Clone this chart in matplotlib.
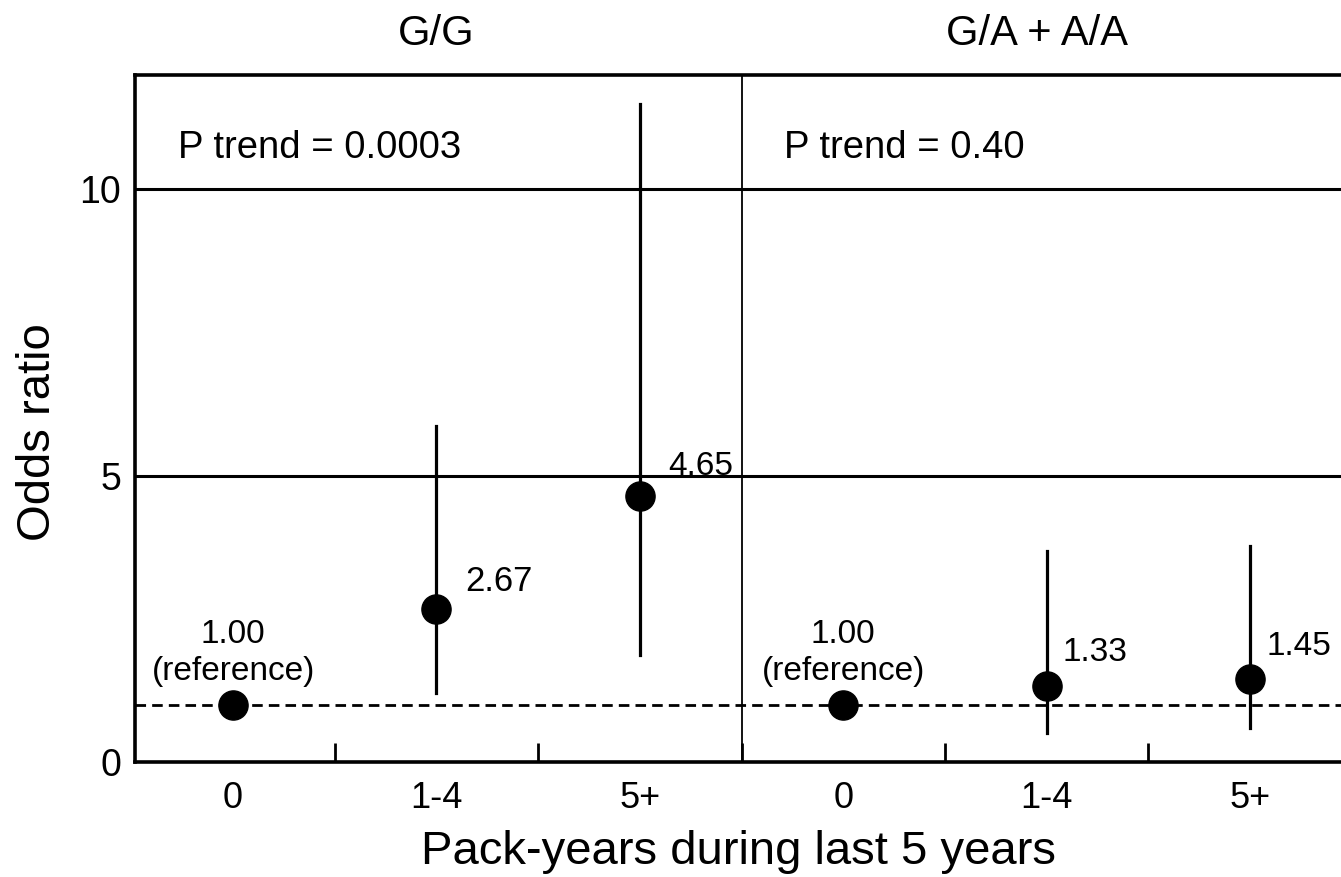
import matplotlib.pyplot as plt
import numpy as np

plt.rcParams['font.family'] = ['Liberation Sans', 'DejaVu Sans']

# data
groups = ['G/G', 'G/A + A/A']
pack_years = ['0', '1-4', '5+']
odds = [1.00, 2.67, 4.65, 1.00, 1.33, 1.45]
ci_low = [np.nan, 1.21, 1.87, np.nan, 0.51, 0.59]
ci_high = [np.nan, 5.87, 11.5, np.nan, 3.68, 3.77]
labels = ['1.00', '2.67', '4.65', '1.00', '1.33', '1.45']
p_trend = ['P trend = 0.0003', 'P trend = 0.40']

x = np.arange(len(odds))

fig = plt.figure(figsize=(13.41, 8.77), dpi=100)
ax = fig.add_axes([0.1007, 0.1311, 0.8993, 0.7834])

ax.set_xlim(-0.482, 5.447)
ax.set_ylim(0, 12)

# grid lines at 5 and 10, divider between panels
for yv in [5, 10]:
    ax.axhline(yv, color='black', lw=2.2, zorder=1)
ax.axvline(2.5, color='black', lw=1.3, zorder=1)
ax.axhline(1.0, color='black', lw=2.0, ls=(0, (3.8, 2.2)), zorder=1)

# confidence intervals
for xi, lo, hi in zip(x, ci_low, ci_high):
    if not np.isnan(lo):
        ax.plot([xi, xi], [lo, hi], color='black', lw=2.3, zorder=2)
ax.plot(x, odds, 'o', color='black', markersize=21, zorder=3)

# value labels
fs = 24
for i in [0, 3]:
    ax.text(x[i], 2.22, labels[i], ha='center', va='center', fontsize=fs)
    ax.text(x[i], 1.58, '(reference)', ha='center', va='center', fontsize=fs)
ax.text(1.14, 3.15, labels[1], ha='left', va='center', fontsize=25)
ax.text(2.14, 5.17, labels[2], ha='left', va='center', fontsize=fs)
ax.text(4.08, 1.91, labels[4], ha='left', va='center', fontsize=fs)
ax.text(5.08, 2.01, labels[5], ha='left', va='center', fontsize=fs)

ax.text(-0.27, 10.72, p_trend[0], ha='left', va='center', fontsize=27.5)
ax.text(2.71, 10.72, p_trend[1], ha='left', va='center', fontsize=27.5)

# panel titles
ax.text(1, 12.72, groups[0], ha='center', va='center', fontsize=30)
ax.text(3.95, 12.72, groups[1], ha='center', va='center', fontsize=30)

# axes styling
for s in ['left', 'bottom', 'top']:
    ax.spines[s].set_linewidth(2.6)
ax.spines['right'].set_visible(False)

ax.set_xticks(x)
ax.set_xticklabels(pack_years * 2, fontsize=26)
ax.set_xticks([0.5, 1.5, 2.5, 3.5, 4.5], minor=True)
ax.tick_params(axis='x', which='major', length=0, pad=14)
ax.tick_params(axis='x', which='minor', direction='in', length=14, width=2)

ax.set_yticks([0, 5, 10])
ax.tick_params(axis='y', length=0, pad=10, labelsize=27)

ax.set_ylabel('Odds ratio', fontsize=34)
ax.yaxis.set_label_coords(-0.062, 0.48)
ax.set_xlabel('Pack-years during last 5 years', fontsize=34, labelpad=10)

fig.savefig('out.png', dpi=100)
